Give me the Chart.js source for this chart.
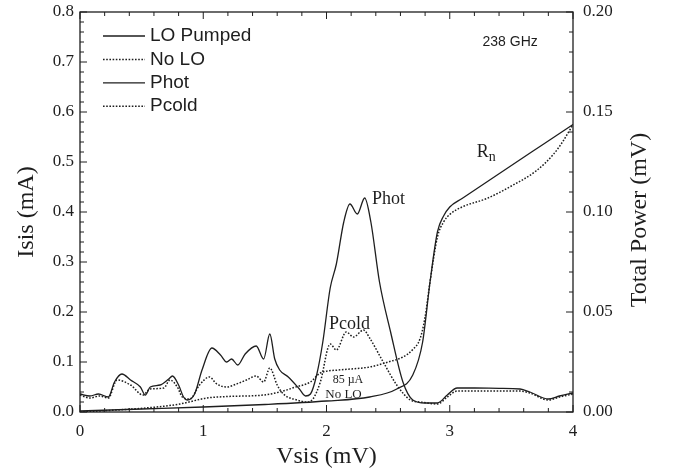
<!DOCTYPE html>
<html>
<head>
<meta charset="utf-8">
<script src="https://cdn.jsdelivr.net/npm/chart.js@4.4.0/dist/chart.umd.min.js"></script>
<style>
  body { margin: 0; background: #fff; }
  #wrap { width: 673px; height: 471px; }
</style>
</head>
<body>
<div id="wrap"><canvas id="myChart" width="673" height="471"></canvas></div>
<script>
// I-V curves (left axis, mA)
const vPumped = [0, 0.5, 1.0, 1.5, 2.0, 2.35, 2.57, 2.7, 2.78, 2.84, 2.9, 2.95, 3.0, 3.1, 3.3, 3.5, 3.75, 4.0];
const iPumped = [0.002, 0.006, 0.01, 0.015, 0.022, 0.03, 0.046, 0.074, 0.14, 0.26, 0.36, 0.392, 0.41, 0.427, 0.46, 0.493, 0.534, 0.575];

const vNoLO = [0, 0.3, 0.62, 0.81, 1.03, 1.2, 1.49, 1.62, 1.75, 1.87, 1.95, 2.1, 2.35, 2.5, 2.62, 2.7, 2.76, 2.8, 2.84, 2.9, 2.95, 3.0, 3.1, 3.3, 3.5, 3.7, 3.84, 3.92, 4.0];
const iNoLO = [0.0, 0.004, 0.01, 0.016, 0.028, 0.031, 0.034, 0.04, 0.05, 0.06, 0.078, 0.084, 0.09, 0.1, 0.11, 0.125, 0.147, 0.19, 0.26, 0.35, 0.38, 0.395, 0.41, 0.427, 0.452, 0.482, 0.515, 0.542, 0.575];

// total power curves (right axis, mV)
const vHot = [0, 0.08, 0.15, 0.23, 0.28, 0.34, 0.41, 0.49, 0.53, 0.57, 0.65, 0.72, 0.75, 0.8, 0.84, 0.87, 0.93, 0.99, 1.07, 1.14, 1.19, 1.23, 1.28, 1.34, 1.43, 1.49, 1.54, 1.58, 1.62, 1.69, 1.78, 1.83, 1.87, 1.92, 1.97, 2.03, 2.08, 2.14, 2.19, 2.25, 2.31, 2.36, 2.43, 2.52, 2.62, 2.7, 2.8, 2.9, 2.98, 3.06, 3.2, 3.4, 3.57, 3.65, 3.8, 3.89, 4.0];
const pHot = [0.009, 0.008, 0.009, 0.0075, 0.015, 0.019, 0.016, 0.0125, 0.0085, 0.0125, 0.0135, 0.0165, 0.018, 0.0135, 0.0075, 0.006, 0.009, 0.021, 0.032, 0.0285, 0.025, 0.0265, 0.0235, 0.029, 0.033, 0.0265, 0.039, 0.0265, 0.021, 0.0175, 0.0115, 0.008, 0.009, 0.0185, 0.035, 0.062, 0.074, 0.095, 0.104, 0.099, 0.107, 0.095, 0.065, 0.04, 0.015, 0.006, 0.0045, 0.0045, 0.0085, 0.012, 0.012, 0.0118, 0.0115, 0.01, 0.0065, 0.008, 0.0095];

const vCold = [0, 0.08, 0.16, 0.23, 0.30, 0.41, 0.51, 0.57, 0.68, 0.73, 0.79, 0.83, 0.89, 0.97, 1.05, 1.11, 1.19, 1.27, 1.35, 1.43, 1.49, 1.54, 1.6, 1.65, 1.76, 1.84, 1.89, 1.95, 2.03, 2.08, 2.16, 2.22, 2.3, 2.35, 2.46, 2.57, 2.68, 2.76, 2.9, 2.98, 3.06, 3.3, 3.57, 3.65, 3.8, 3.89, 4.0];
const pCold = [0.0085, 0.007, 0.008, 0.007, 0.016, 0.0135, 0.0085, 0.0115, 0.012, 0.016, 0.0125, 0.0075, 0.0065, 0.0135, 0.0175, 0.014, 0.0125, 0.014, 0.016, 0.018, 0.015, 0.022, 0.0135, 0.009, 0.006, 0.005, 0.0065, 0.015, 0.034, 0.031, 0.04, 0.0375, 0.041, 0.037, 0.025, 0.0135, 0.006, 0.005, 0.004, 0.0075, 0.0105, 0.0105, 0.0105, 0.0095, 0.006, 0.0075, 0.009];

const seriesNames = ['LO Pumped', 'No LO', 'Phot', 'Pcold'];

const pts = (xs, ys) => xs.map((x, i) => ({ x: x, y: ys[i] }));
const INK = '#1e1e1e';
const SERIF = '"Liberation Serif", "Times New Roman", serif';
const SANS = '"Liberation Sans", Arial, sans-serif';
const DOT = [1.6, 1.6];

// frame, inward ticks, legend and labels
const decor = {
  id: 'decor',
  afterDraw(chart) {
    const { ctx, chartArea: a, scales } = chart;
    const sx = scales.x, sy = scales.y, sy1 = scales.y1;
    ctx.save();
    ctx.strokeStyle = INK;
    ctx.lineWidth = 1.3;
    ctx.setLineDash([]);
    ctx.strokeRect(a.left, a.top, a.width, a.height);

    ctx.lineWidth = 1;
    ctx.beginPath();
    for (let k = 0; k <= 20; k++) {
      const px = sx.getPixelForValue(k * 0.2);
      const len = k % 5 === 0 ? 7 : 4;
      ctx.moveTo(px, a.bottom); ctx.lineTo(px, a.bottom - len);
      ctx.moveTo(px, a.top); ctx.lineTo(px, a.top + len);
    }
    for (let k = 0; k <= 40; k++) {
      const py = sy.getPixelForValue(k * 0.02);
      const len = k % 5 === 0 ? 7 : 4;
      ctx.moveTo(a.left, py); ctx.lineTo(a.left + len, py);
    }
    for (let k = 0; k <= 20; k++) {
      const py = sy1.getPixelForValue(k * 0.01);
      const len = k % 5 === 0 ? 7 : 4;
      ctx.moveTo(a.right, py); ctx.lineTo(a.right - len, py);
    }
    ctx.stroke();

    // legend
    ctx.textBaseline = 'middle';
    ctx.textAlign = 'left';
    ctx.font = '19px ' + SANS;
    chart.data.datasets.forEach((ds, i) => {
      const ly = 36 + i * 23.4;
      ctx.beginPath();
      ctx.lineWidth = ds.borderWidth;
      ctx.setLineDash(ds.borderDash || []);
      ctx.moveTo(103, ly); ctx.lineTo(145, ly);
      ctx.stroke();
      ctx.fillStyle = INK;
      ctx.fillText(ds.label, 150, ly);
    });
    ctx.setLineDash([]);

    ctx.fillStyle = INK;
    ctx.font = '14px ' + SANS;
    ctx.textAlign = 'center';
    ctx.fillText('238 GHz', sx.getPixelForValue(3.49), sy.getPixelForValue(0.74));

    ctx.textAlign = 'left';
    ctx.font = '18px ' + SERIF;
    ctx.fillText('Phot', sx.getPixelForValue(2.37), sy1.getPixelForValue(0.1065));
    ctx.fillText('Pcold', sx.getPixelForValue(2.02), sy1.getPixelForValue(0.0437));
    const rx = sx.getPixelForValue(3.22), ry = sy.getPixelForValue(0.519);
    ctx.fillText('R', rx, ry);
    const rw = ctx.measureText('R').width;
    ctx.font = '14px ' + SERIF;
    ctx.fillText('n', rx + rw, ry + 5);

    ctx.font = '12px ' + SERIF;
    ctx.fillText('85 \u00b5A', sx.getPixelForValue(2.05), sy.getPixelForValue(0.064));
    ctx.font = '13px ' + SERIF;
    ctx.fillText('No LO', sx.getPixelForValue(1.99), sy.getPixelForValue(0.034));

    // right axis title, reading bottom to top
    ctx.font = '24px ' + SERIF;
    ctx.textAlign = 'center';
    ctx.translate(640, (a.top + a.bottom) / 2 + 8);
    ctx.rotate(-Math.PI / 2);
    ctx.fillText('Total Power (mV)', 0, 0);
    ctx.restore();
  }
};

const fitSide = w => s => { s.width = w; s.paddingTop = 0; s.paddingBottom = 0; };

const ctx = document.getElementById('myChart').getContext('2d');
const myChart = new Chart(ctx, {
  type: 'line',
  data: {
    datasets: [
      { label: seriesNames[0], data: pts(vPumped, iPumped), yAxisID: 'y', borderColor: INK, borderWidth: 1.3 },
      { label: seriesNames[1], data: pts(vNoLO, iNoLO), yAxisID: 'y', borderColor: INK, borderWidth: 1.5, borderDash: DOT },
      { label: seriesNames[2], data: pts(vHot, pHot), yAxisID: 'y1', borderColor: INK, borderWidth: 1.3 },
      { label: seriesNames[3], data: pts(vCold, pCold), yAxisID: 'y1', borderColor: INK, borderWidth: 1.5, borderDash: DOT }
    ]
  },
  options: {
    responsive: false,
    animation: false,
    layout: { padding: { top: 12, left: 0, right: 0, bottom: 0 } },
    elements: {
      point: { radius: 0 },
      line: { cubicInterpolationMode: 'monotone', fill: false }
    },
    plugins: { legend: { display: false }, tooltip: { enabled: false } },
    scales: {
      x: {
        type: 'linear', min: 0, max: 4,
        grid: { display: false, drawTicks: false },
        border: { display: false },
        ticks: { stepSize: 1, padding: 9, color: INK, font: { family: SERIF, size: 17 }, callback: v => String(v) },
        title: { display: true, text: 'Vsis (mV)', color: INK, font: { family: SERIF, size: 24 }, padding: { top: 0, bottom: 0 } },
        afterFit: s => { s.height = 59; }
      },
      y: {
        position: 'left', min: 0, max: 0.8,
        grid: { display: false, drawTicks: false },
        border: { display: false },
        ticks: { stepSize: 0.1, padding: 6, color: INK, font: { family: SERIF, size: 17 }, callback: v => v.toFixed(1) },
        title: { display: true, text: 'Isis (mA)', color: INK, font: { family: SERIF, size: 24 }, padding: { top: 12, bottom: 0 } },
        afterFit: fitSide(80)
      },
      y1: {
        position: 'right', min: 0, max: 0.2,
        grid: { display: false, drawTicks: false },
        border: { display: false },
        ticks: { stepSize: 0.05, padding: 10, color: INK, font: { family: SERIF, size: 17 }, callback: v => v.toFixed(2) },
        afterFit: fitSide(100)
      }
    }
  },
  plugins: [decor]
});
</script>
</body>
</html>
